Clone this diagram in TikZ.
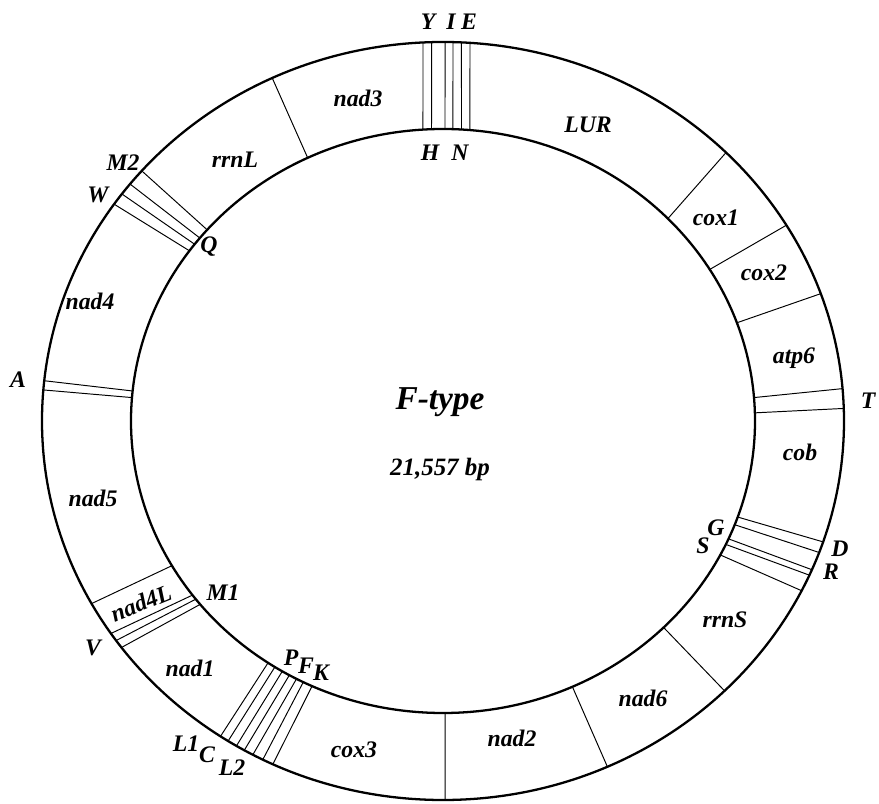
\documentclass[tikz,border=0pt]{standalone}
\usepackage{fontspec}
\setmainfont{Liberation Serif}
\usepackage{tikz}

\begin{document}
\begin{tikzpicture}[
  x=0.02cm, y=0.02cm,
  ring/.style  = {line width=1.3pt},
  seg/.style   = {line width=0.55pt},
  gene/.style  = {font=\fontsize{13.5}{15}\selectfont\bfseries\itshape, inner sep=0pt},
  trna/.style  = {gene},
  title/.style = {font=\fontsize{19}{21}\selectfont\bfseries\itshape, inner sep=0pt},
  size/.style  = {font=\fontsize{14.2}{16}\selectfont\bfseries\itshape, inner sep=0pt},
]
\useasboundingbox (-443,-383) rectangle (436,421);

% ---- the two rings -----------------------------------------------------------
\draw[ring] (0,0) ellipse [x radius=401, y radius=379];
\draw[ring] (0,0) ellipse [x radius=312, y radius=292];

% ---- gene borders ------------------------------------------------------------
\draw[seg] (115.2:401 and 379) -- (115.7:312 and 292);   % rrnL | nad3
\draw[seg] (45.1:401 and 379)  -- (43.88:312 and 292);   % LUR | cox1
\draw[seg] (31.1:401 and 379)  -- (31.26:312 and 292);   % cox1 | cox2
\draw[seg] (19.63:401 and 379) -- (19.65:312 and 292);   % cox2 | atp6
\draw[seg] (314.6:401 and 379) -- (315.0:312 and 292);   % rrnS | nad6
\draw[seg] (294.2:401 and 379) -- (294.5:312 and 292);   % nad6 | nad2
\draw[seg] (270.3:401 and 379) -- (270.4:312 and 292);   % nad2 | cox3
\draw[seg] (208.8:401 and 379) -- (209.7:312 and 292);   % nad5 | nad4L

% ---- tRNA bands --------------------------------------------------------------
\draw[seg] (92.86:401 and 379) -- (93.68:312 and 292)
           (91.64:401 and 379) -- (92.11:312 and 292)
           (89.71:401 and 379) -- (89.63:312 and 292)
           (88.57:401 and 379) -- (88.17:312 and 292)
           (87.36:401 and 379) -- (86.60:312 and 292)
           (86.14:401 and 379) -- (85.04:312 and 292);
\draw[seg] (138.7:401 and 379) -- (139.1:312 and 292)
           (141.3:401 and 379) -- (141.2:312 and 292)
           (143.2:401 and 379) -- (142.75:312 and 292)
           (145.1:401 and 379) -- (144.35:312 and 292);
\draw[seg] (173.9:401 and 379) -- (174.1:312 and 292)
           (175.3:401 and 379) -- (175.4:312 and 292);
\draw[seg] (214.1:401 and 379) -- (216.6:312 and 292)
           (215.4:401 and 379) -- (217.6:312 and 292)
           (216.7:401 and 379) -- (218.9:312 and 292);
\draw[seg] (236.3:401 and 379) -- (235.9:312 and 292)
           (237.6:401 and 379) -- (237.4:312 and 292)
           (239.0:401 and 379) -- (239.0:312 and 292)
           (240.3:401 and 379) -- (240.5:312 and 292)
           (241.7:401 and 379) -- (242.0:312 and 292)
           (243.3:401 and 379) -- (243.4:312 and 292)
           (244.9:401 and 379) -- (245.2:312 and 292);
\draw[seg] (333.4:401 and 379) -- (332.7:312 and 292)
           (336.0:401 and 379) -- (335.0:312 and 292)
           (336.9:401 and 379) -- (336.2:312 and 292)
           (339.7:401 and 379) -- (339.2:312 and 292)
           (341.4:401 and 379) -- (340.8:312 and 292);
\draw[seg] (1.9:401 and 379) -- (1.6:312 and 292)
           (4.9:401 and 379) -- (4.6:312 and 292);

% ---- gene names --------------------------------------------------------------
\node[gene] (nad3) at (-85,323)   {nad3};
\node[gene] (lur)  at (145,296)   {LUR};
\node[gene] (cox1) at (273,203)   {cox1};
\node[gene] (cox2) at (321,148)   {cox2};
\node[gene] (atp6) at (351,63)    {atp6};
\node[gene] (cob)  at (357,-31)   {cob};
\node[gene] (rrns) at (282,-199)  {rrnS};
\node[gene] (nad6) at (200,-277)  {nad6};
\node[gene] (nad2) at (69,-317)   {nad2};
\node[gene] (cox3) at (-89,-329)  {cox3};
\node[gene] (nad1) at (-253,-247) {nad1};
\node[gene, rotate=22] (nad4l) at (-302,-182) {nad4L};
\node[gene] (nad5) at (-350,-77)  {nad5};
\node[gene] (nad4) at (-353,120)  {nad4};
\node[gene] (rrnl) at (-208,261)  {rrnL};

% ---- tRNA names --------------------------------------------------------------
\node[trna] (tY)  at (-15,399)   {Y};
\node[trna] (tI)  at (8,399)     {I};
\node[trna] (tE)  at (26,399)    {E};
\node[trna] (tH)  at (-13,268)   {H};
\node[trna] (tN)  at (17,268)    {N};
\node[trna] (tT)  at (425,20)    {T};
\node[trna] (tG)  at (273,-107)  {G};
\node[trna] (tS)  at (260,-125)  {S};
\node[trna] (tD)  at (397,-128)  {D};
\node[trna] (tR)  at (388,-151)  {R};
\node[trna] (tP)  at (-152,-237) {P};
\node[trna] (tF)  at (-137,-245) {F};
\node[trna] (tK)  at (-122,-252) {K};
\node[trna] (tL1) at (-257,-323) {L1};
\node[trna] (tC)  at (-236,-334) {C};
\node[trna] (tL2) at (-211,-347) {L2};
\node[trna] (tM1) at (-220,-172) {M1};
\node[trna] (tV)  at (-350,-227) {V};
\node[trna] (tA)  at (-425,41)   {A};
\node[trna] (tW)  at (-345,226)  {W};
\node[trna] (tM2) at (-320,258)  {M2};
\node[trna] (tQ)  at (-234,174)  {Q};

% ---- centre ------------------------------------------------------------------
\node[title] (name) at (-3,19)  {F-type};
\node[size]  (len)  at (-3,-49) {21,557 bp};

\end{tikzpicture}
\end{document}
